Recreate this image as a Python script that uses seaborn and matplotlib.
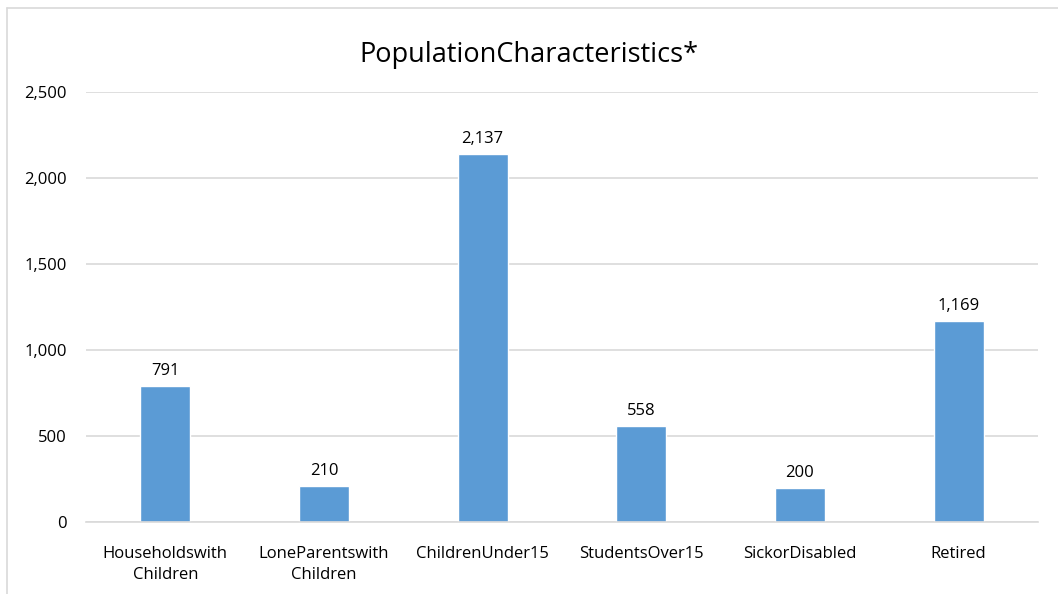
import matplotlib
matplotlib.use("Agg")
import matplotlib.pyplot as plt
import seaborn as sns
import pandas as pd
from matplotlib.lines import Line2D
from matplotlib.ticker import FuncFormatter

categories = ["Householdswith\nChildren", "LoneParentswith\nChildren", "ChildrenUnder15",
              "StudentsOver15", "SickorDisabled", "Retired"]
values = [791, 210, 2137, 558, 200, 1169]
yticks = [0, 500, 1000, 1500, 2000, 2500]

sns.set_theme(style="white")
plt.rcParams['font.family'] = ['Open Sans', 'DejaVu Sans']

df = pd.DataFrame({"cat": categories, "val": values})

fig = plt.figure(figsize=(10.58, 5.94), dpi=100)
ax = fig.add_axes([86/1058, 1-522/594, (1038-86)/1058, (522-92)/594])
sns.barplot(data=df, x="cat", y="val", color="#5B9BD5", width=0.315, ax=ax, saturation=1)

ax.set_ylim(0, 2500)
ax.set_yticks(yticks)
ax.yaxis.set_major_formatter(FuncFormatter(lambda v, p: f"{int(v):,}"))
ax.grid(axis="y", color="#D9D9D9", linewidth=1.2)
ax.set_axisbelow(True)
for s in ["top", "right", "left"]:
    ax.spines[s].set_visible(False)
ax.spines["bottom"].set_color("#D9D9D9")
ax.spines["bottom"].set_linewidth(1.2)
ax.tick_params(axis="both", length=0, labelsize=12, colors="#000000")
ax.tick_params(axis="y", pad=14)
ax.tick_params(axis="x", pad=17)
ax.set_xlabel("")
ax.set_ylabel("")
for lbl in ax.get_xticklabels():
    lbl.set_linespacing(1.45)

for i, v in enumerate(values):
    ax.annotate(f"{v:,}", (i, v), xytext=(0, 5), textcoords="offset points",
                ha="center", va="bottom", fontsize=12, color="#000000")

fig.text(0.5, 1-55/594, "PopulationCharacteristics*", ha="center", va="center",
         fontsize=19.5, color="#000000")

fig.add_artist(Line2D([7/1058, 1.0], [1-8/594, 1-8/594], transform=fig.transFigure,
                      color="#D9D9D9", linewidth=1.2))
fig.add_artist(Line2D([7/1058, 7/1058], [0, 1-8/594], transform=fig.transFigure,
                      color="#D9D9D9", linewidth=1.2))

fig.savefig("out.png", dpi=100, facecolor="white")
